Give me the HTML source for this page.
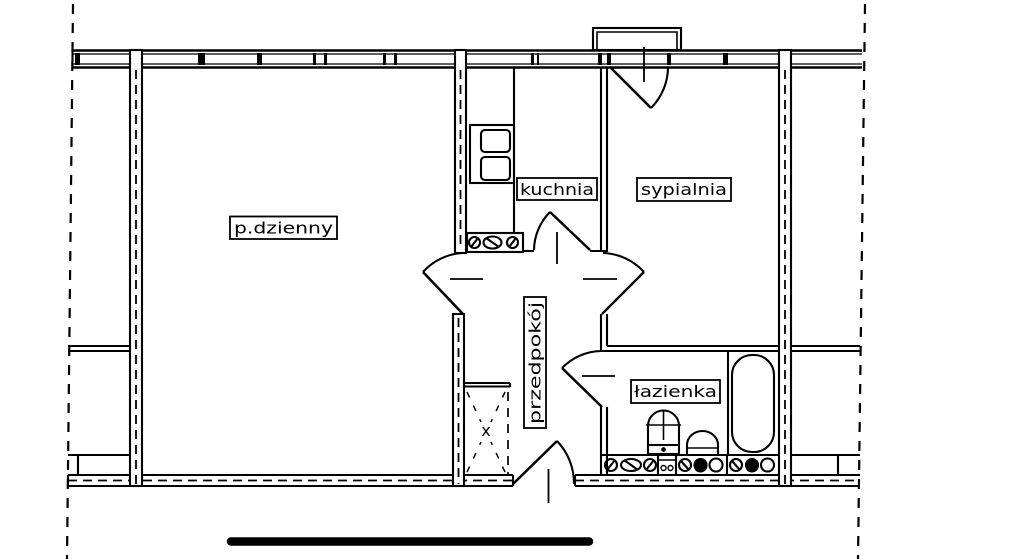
<!DOCTYPE html>
<html><head><meta charset="utf-8"><style>
html,body{margin:0;padding:0;background:#fff;}
svg{display:block;}
text{font-family:"DejaVu Sans","Liberation Sans",sans-serif;font-size:16px;fill:#000;}
</style></head><body>
<svg width="1024" height="559" viewBox="0 0 1024 559" xmlns="http://www.w3.org/2000/svg">
<g fill="none" stroke="#000" stroke-width="2.1">
<!-- outer dashed lines -->
<line x1="73" y1="4" x2="67" y2="559" stroke-dasharray="10 9" stroke-width="2.2"/>
<line x1="865" y1="4" x2="858" y2="559" stroke-dasharray="10 9" stroke-width="2.2"/>

<!-- top wall -->
<rect x="72" y="50" width="790" height="18" fill="#fff" stroke="none"/>
<line x1="72" y1="50.5" x2="862" y2="50.5" stroke-width="2.5"/>
<line x1="72" y1="54" x2="862" y2="54" stroke-width="1.3"/>
<line x1="72" y1="64" x2="862" y2="64" stroke-width="1.3"/>
<line x1="72" y1="67.5" x2="862" y2="67.5" stroke-width="2.5"/>
<line x1="72.5" y1="50" x2="72.5" y2="68"/>
</g>
<g fill="#000">
<rect x="75" y="53" width="5" height="12"/>
<rect x="198" y="53" width="7" height="12"/>
<rect x="257" y="53" width="5" height="12"/>
<rect x="313" y="53" width="3" height="12"/>
<rect x="324" y="53" width="3" height="12"/>
<rect x="383" y="53" width="3" height="12"/>
<rect x="394" y="53" width="3" height="12"/>
<rect x="531" y="53" width="3" height="12"/>
<rect x="537" y="53" width="2" height="12"/>
<rect x="598" y="53" width="4" height="12"/>
<rect x="607" y="53" width="4" height="12"/>
<rect x="667" y="53" width="4" height="12"/>
<rect x="723" y="53" width="5" height="12"/>
</g>
<g fill="none" stroke="#000" stroke-width="2.1">
<!-- window box above -->
<rect x="593" y="28" width="88" height="22" fill="#fff"/>
<polyline points="597,50 597,32 677,32 677,50" stroke-width="1.6"/>

<!-- bottom wall -->
<rect x="68" y="475" width="445" height="11" fill="#fff" stroke="none"/>
<line x1="68" y1="475" x2="513" y2="475"/>
<line x1="68" y1="486" x2="513" y2="486"/>
<line x1="68" y1="480.5" x2="513" y2="480.5" stroke-dasharray="9 6" stroke-width="1.8"/>
<line x1="575" y1="475" x2="860" y2="475"/>
<line x1="575" y1="486" x2="860" y2="486"/>
<line x1="575" y1="480.5" x2="860" y2="480.5" stroke-dasharray="9 6" stroke-width="1.8"/>
<line x1="513" y1="475" x2="513" y2="486"/>
<line x1="575" y1="475" x2="575" y2="486"/>
<line x1="68" y1="475" x2="68" y2="486"/>

<!-- living left wall -->
<rect x="130" y="50" width="12" height="436" fill="#fff"/>
<line x1="136" y1="70" x2="136" y2="484" stroke-dasharray="9 6" stroke-width="1.8"/>
<!-- right wall -->
<rect x="779" y="50" width="12" height="436" fill="#fff"/>
<line x1="785" y1="70" x2="785" y2="484" stroke-dasharray="9 6" stroke-width="1.8"/>
<!-- kitchen left wall -->
<rect x="455" y="50" width="11" height="203" fill="#fff"/>
<line x1="460.5" y1="70" x2="460.5" y2="250" stroke-dasharray="9 6" stroke-width="1.8"/>
<!-- hall lower left wall -->
<rect x="453" y="314" width="11" height="172" fill="#fff"/>
<line x1="458.5" y1="318" x2="458.5" y2="484" stroke-dasharray="9 6" stroke-width="1.8"/>

<!-- outside left lines -->
<line x1="68" y1="346" x2="130" y2="346"/>
<line x1="68" y1="351" x2="130" y2="351"/>
<line x1="68" y1="455" x2="130" y2="455"/>
<line x1="78" y1="455" x2="78" y2="475"/>
<!-- outside right lines -->
<line x1="791" y1="346" x2="860" y2="346"/>
<line x1="791" y1="351" x2="860" y2="351"/>
<line x1="791" y1="455" x2="860" y2="455"/>
<line x1="838" y1="455" x2="838" y2="475"/>

<!-- kitchen/bedroom wall -->
<line x1="601" y1="68" x2="601" y2="252"/>
<line x1="607" y1="68" x2="607" y2="252"/>
<line x1="590" y1="251" x2="607" y2="251"/>
<!-- hall right wall + bathroom ceiling -->
<line x1="601" y1="314" x2="601" y2="351"/>
<line x1="607" y1="314" x2="607" y2="346"/>
<line x1="607" y1="346" x2="779" y2="346"/>
<line x1="601" y1="351" x2="779" y2="351"/>
<!-- bathroom left wall -->
<line x1="601" y1="407" x2="601" y2="475"/>
<line x1="607" y1="407" x2="607" y2="475"/>

<!-- kitchen interior -->
<line x1="514" y1="68" x2="514" y2="233"/>
<rect x="470" y="125" width="44" height="58"/>
<rect x="481" y="130" width="29" height="22" rx="4"/>
<rect x="481" y="157" width="29" height="23" rx="4"/>
<rect x="467" y="233" width="56" height="19"/>
<circle cx="474.5" cy="242.5" r="5.5"/>
<line x1="471" y1="247" x2="478" y2="238"/>
<ellipse cx="492.5" cy="242.5" rx="9" ry="6"/>
<line x1="486" y1="238" x2="499" y2="247"/>
<circle cx="512.5" cy="242.5" r="5.5"/>
<line x1="509" y1="247" x2="516" y2="238"/>
<line x1="523" y1="251" x2="534" y2="251"/>

<!-- doors -->
<line x1="610" y1="67" x2="651" y2="108" stroke-width="2.5"/>
<path d="M651,108 A58,58 0 0,0 668,67"/>
<line x1="644" y1="47" x2="644" y2="82" stroke-width="1.8"/>

<line x1="550" y1="212" x2="590" y2="250" stroke-width="2.5"/>
<path d="M550,212 A55,55 0 0,0 534,250"/>
<line x1="557" y1="232" x2="557" y2="264" stroke-width="1.8"/>

<line x1="463" y1="314" x2="423" y2="272" stroke-width="2.5"/>
<path d="M423,272 A58,58 0 0,1 462,253"/>
<line x1="602" y1="314" x2="644" y2="272" stroke-width="2.5"/>
<path d="M644,272 A58,58 0 0,0 603,253"/>
<line x1="450" y1="279" x2="483" y2="279" stroke-width="1.8"/>
<line x1="583" y1="279" x2="617" y2="279" stroke-width="1.8"/>

<line x1="602" y1="407" x2="562" y2="368" stroke-width="2.5"/>
<path d="M562,368 A56,56 0 0,1 601,351"/>
<line x1="582" y1="376" x2="615" y2="376" stroke-width="1.8"/>

<line x1="513" y1="484" x2="557" y2="441" stroke-width="2.5"/>
<path d="M557,441 A61,61 0 0,1 574,484"/>
<line x1="548.5" y1="469" x2="548.5" y2="503" stroke-width="1.8"/>

<!-- cupboard -->
<line x1="464" y1="383" x2="510" y2="383"/>
<line x1="464" y1="386.5" x2="510" y2="386.5"/>
<line x1="510" y1="383" x2="510" y2="387"/>
<line x1="508" y1="392" x2="508" y2="474" stroke-dasharray="9 7" stroke-width="1.7"/>
<line x1="467" y1="392" x2="481" y2="422" stroke-dasharray="6 9" stroke-width="1.5"/>
<line x1="505" y1="392" x2="491" y2="422" stroke-dasharray="6 9" stroke-width="1.5"/>
<line x1="467" y1="472" x2="481" y2="442" stroke-dasharray="6 9" stroke-width="1.5"/>
<line x1="505" y1="472" x2="491" y2="442" stroke-dasharray="6 9" stroke-width="1.5"/>

<!-- bathroom -->
<line x1="728" y1="351" x2="728" y2="455"/>
<rect x="732" y="355" width="42" height="97" rx="20" ry="20"/>
<path d="M648,445 L648,426 A15.5,15.5 0 0,1 679,426 L679,445"/>
<rect x="648" y="445" width="31" height="9"/>
<circle cx="663.5" cy="449.5" r="1.3" fill="#000"/>
<line x1="663.5" y1="411" x2="663.5" y2="440" stroke-width="1.6"/>
<line x1="646" y1="425" x2="681" y2="425" stroke-width="1.6"/>
<path d="M687,454 L687,445 A15.5,14 0 0,1 718,445 L718,454"/>
<line x1="687" y1="448" x2="718" y2="448" stroke-width="1.6"/>
<line x1="602" y1="455" x2="779" y2="455"/>
<line x1="658" y1="455" x2="658" y2="475"/>
<line x1="676" y1="455" x2="676" y2="475"/>
<line x1="727" y1="455" x2="727" y2="475"/>
<line x1="658" y1="460" x2="676" y2="460" stroke-width="1.4"/>
<circle cx="663.5" cy="468" r="2.5" stroke-width="1.4"/>
<circle cx="670.5" cy="468" r="2.5" stroke-width="1.4"/>

<circle cx="611" cy="465" r="6"/>
<line x1="607" y1="470" x2="615" y2="460"/>
<ellipse cx="631" cy="465" rx="10" ry="6"/>
<line x1="624" y1="460" x2="638" y2="470"/>
<circle cx="650" cy="465" r="6"/>
<line x1="646" y1="470" x2="654" y2="460"/>
<circle cx="685" cy="465" r="6"/>
<line x1="681" y1="461" x2="689" y2="470"/>
<circle cx="700.5" cy="465" r="6"/>
<path d="M697,460.5 A6,6 0 1,1 696,469.5 Z" fill="#000"/>
<circle cx="716" cy="465" r="6.5"/>
<circle cx="736" cy="465" r="6"/>
<line x1="732" y1="461" x2="740" y2="470"/>
<circle cx="752" cy="465" r="6"/>
<path d="M748.5,460.5 A6,6 0 1,1 747.5,469.5 Z" fill="#000"/>
<circle cx="767.5" cy="465" r="6.5"/>

<!-- label boxes -->
<rect x="230" y="216.5" width="107" height="22.5" fill="#fff" stroke-width="1.8"/>
<rect x="517" y="178" width="80" height="22" fill="#fff" stroke-width="1.8"/>
<rect x="637" y="178" width="94" height="23" fill="#fff" stroke-width="1.8"/>
<rect x="631" y="380" width="89" height="23" fill="#fff" stroke-width="1.8"/>
<rect x="524" y="297" width="22" height="131" fill="#fff" stroke-width="1.8"/>
</g>

<text x="486" y="436" font-size="11" text-anchor="middle">x</text>
<text x="234" y="233.5" textLength="99" lengthAdjust="spacingAndGlyphs">p.dzienny</text>
<text x="520" y="195" textLength="74" lengthAdjust="spacingAndGlyphs">kuchnia</text>
<text x="641" y="195" textLength="86" lengthAdjust="spacingAndGlyphs">sypialnia</text>
<text x="634" y="397" textLength="83" lengthAdjust="spacingAndGlyphs">łazienka</text>
<text transform="translate(540.5,424) rotate(-90)" x="0" y="0" textLength="122" lengthAdjust="spacingAndGlyphs">przedpokój</text>

<!-- bottom bar -->
<line x1="231" y1="541.5" x2="589" y2="541.5" stroke="#000" stroke-width="8.5" stroke-linecap="round"/>
</svg>
</body></html>
